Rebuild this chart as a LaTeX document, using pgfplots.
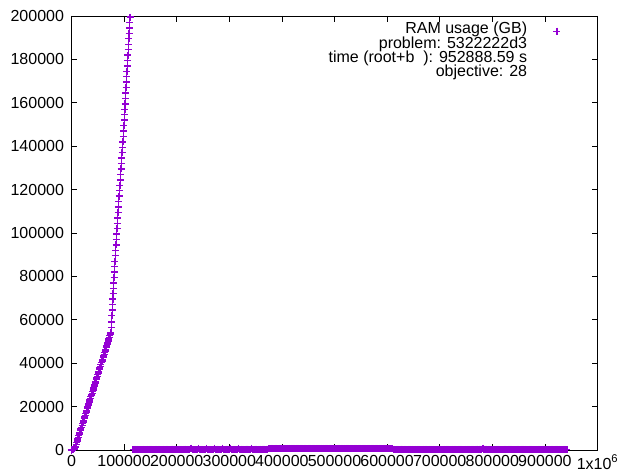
\documentclass[border=0pt]{standalone}
\usepackage{fontspec}
\setmainfont{Liberation Sans}
\usepackage{pgfplots}
\pgfplotsset{compat=1.18}
\definecolor{gpviolet}{RGB}{148,0,211}
\pgfplotsset{gp/.style={only marks, mark=+, mark size=3.5pt,
    color=gpviolet, line width=1.4pt, mark options={gpviolet}}}

\begin{document}
\begin{tikzpicture}
\useasboundingbox (-71.5pt,-21pt) rectangle (549.5pt,450pt);
\begin{axis}[
    at={(0pt,0pt)}, anchor=south west,
    scale only axis,
    width=526pt, height=434pt,
    xmin=0, xmax=1000000,
    ymin=0, ymax=200000,
    xtick={0,100000,200000,300000,400000,500000,600000,700000,800000,900000,1000000},
    xticklabels={0,100000,200000,300000,400000,500000,600000,700000,800000,900000,1x10\textsuperscript{6}},
    ytick={0,20000,40000,60000,80000,100000,120000,140000,160000,180000,200000},
    yticklabels={0,20000,40000,60000,80000,100000,120000,140000,160000,180000,200000},
    scaled ticks=false,
    tick align=inside,
    major tick length=6pt,
    tick style={black, line width=0.8pt},
    axis line style={black, line width=0.9pt},
    ticklabel style={font=\fontsize{16}{16}\selectfont},
    yticklabel style={xshift=-4pt},
    xticklabel style={yshift=-1.4pt},
    legend cell align=right,
    legend plot pos=right,
    legend image code/.code={\path (0pt,0pt) (33pt,0pt);
        \draw[gpviolet, line width=1.4pt] plot[mark=+, mark size=3.5pt] coordinates {(29pt,-1.8pt)};},
    legend style={at={(axis description cs:0.9316,0.9854)}, anchor=north east,
        draw=none, fill=none, inner sep=0pt, outer sep=0pt,
        font=\fontsize{16}{16}\selectfont,
        nodes={inner sep=0pt, text height=11.5pt, text depth=2.7pt},
        row sep=0pt, column sep=0pt},
]
% steep part of the run
\addplot[gp] coordinates {
(0,0)(1000,100)(2000,50)(3000,200)(4000,300)(5000,500)(6000,700)(7000,1100)(8000,1700)(9000,2500)
(10000,3400)(11000,4200)(12000,5000)(13000,5800)(14000,6600)(15000,7400)(16000,8200)(17000,9000)(18000,9700)(19000,10500)
(20000,11300)(21000,12100)(22000,12900)(23000,13700)(24000,14400)(25000,15200)(26000,16000)(27000,16800)(28000,17600)(29000,18300)
(30000,19100)(31000,19900)(32000,20700)(33000,21500)(34000,22200)(35000,23000)(36000,23800)(37000,24600)(38000,25400)(39000,26100)
(40000,26900)(41000,27700)(42000,28500)(43000,29300)(44000,30000)(45000,30800)(46000,31600)(47000,32400)(48000,33200)(49000,33900)
(50000,34700)(51000,35500)(52000,36300)(53000,37100)(54000,37800)(55000,38600)(56000,39400)(57000,40200)(58000,41000)(59000,41700)
(60000,42500)(61000,43300)(62000,44100)(63000,44900)(64000,45600)(65000,46400)(66000,47200)(67000,48000)(68000,48800)(69000,49500)
(70000,50300)(71000,51100)(72000,51900)(73000,52700)(74000,53400)(75000,54200)
(75800,56500)(76300,59000)(76900,62000)(77500,64500)(78100,67000)(78600,69500)(79200,72000)(79800,74500)(80400,77000)(81000,79500)
(81500,82000)(82100,84500)(82700,87000)(83400,89500)(84100,92000)(84700,94500)(85400,97000)(86000,99500)(86600,102000)(87300,104500)
(87900,107000)(88600,109500)(89200,112000)(89900,114500)(90500,117000)(91300,119500)(92000,122000)(92700,124500)(93500,127000)(94200,129500)
(94900,132000)(95600,134500)(96300,137000)(97100,139500)(97800,142000)(98500,144500)(99200,147000)(99800,149500)(100300,152000)(100900,154500)
(101500,157000)(102000,159500)(102600,162000)(103200,164500)(103700,167000)(104300,169500)(104900,172000)(105500,174500)(106100,177000)(106700,179500)
(107200,182000)(107800,184500)(108400,187000)(109000,189500)(109500,192000)(110100,194500)(110700,197000)(111300,199500)
};
\addlegendentry{RAM usage (GB)}
% flat part after the drop
\addplot[gp, forget plot] coordinates {
(117000,180)(119500,260)(122000,300)(124500,240)(127000,220)(129500,190)
(132000,150)(134500,230)(137000,280)(139500,210)(142000,200)(144500,260)(147000,320)(149500,270)
(152000,240)(154500,190)(157000,170)(159500,250)(162000,260)(164500,300)(167000,310)(169500,220)
(172000,190)(174500,240)(177000,230)(179500,280)(182000,280)(184500,200)(187000,210)(189500,260)
(192000,350)(194500,280)(197000,260)(199500,210)(202000,190)(204500,250)(207000,300)(209500,270)
(212000,240)(214500,300)(217000,380)(219500,260)(222000,280)(224500,330)(227000,850)(229500,290)
(232000,300)(234500,250)(237000,220)(239500,270)(242000,900)(244500,310)(247000,330)(249500,240)
(252000,260)(254500,300)(257000,880)(259500,280)(262000,310)(264500,270)(267000,240)(269500,290)
(272000,920)(274500,330)(277000,350)(279500,270)(282000,280)(284500,320)(287000,860)(289500,300)
(292000,300)(294500,360)(297000,400)(299500,330)(302000,900)(304500,290)(307000,320)(309500,280)
(312000,270)(314500,320)(317000,880)(319500,310)(322000,350)(324500,300)(327000,290)(329500,340)
(332000,400)(334500,350)(337000,320)(339500,290)(342000,850)(344500,330)(347000,300)(349500,360)
(352000,380)(354500,340)(357000,330)(359500,370)(362000,420)(364500,390)(367000,350)(369500,400)
(372000,450)(374500,600)(377000,650)(379500,700)(382000,700)(384500,690)(387000,720)(389500,740)
(392000,680)(394500,710)(397000,750)(399500,720)(402000,700)(404500,740)(407000,730)(409500,700)
(412000,690)(414500,730)(417000,760)(419500,720)(422000,710)(424500,750)(427000,740)(429500,700)
(432000,700)(434500,740)(437000,770)(439500,730)(442000,720)(444500,700)(447000,690)(449500,740)
(452000,750)(454500,720)(457000,730)(459500,760)(462000,700)(464500,740)(467000,760)(469500,710)
(472000,720)(474500,700)(477000,690)(479500,740)(482000,740)(484500,720)(487000,710)(489500,750)
(492000,770)(494500,740)(497000,730)(499500,700)(502000,700)(504500,720)(507000,750)(509500,730)
(512000,720)(514500,740)(517000,690)(519500,710)(522000,760)(524500,730)(527000,730)(529500,700)
(532000,700)(534500,750)(537000,740)(539500,720)(542000,720)(544500,760)(547000,770)(549500,730)
(552000,700)(554500,720)(557000,740)(559500,760)(562000,710)(564500,730)(567000,760)(569500,740)
(572000,730)(574500,700)(577000,700)(579500,740)(582000,750)(584500,720)(587000,720)(589500,750)
(592000,760)(594500,790)(597000,800)(599500,760)(602000,740)(604500,700)(607000,650)(609500,500)
(612000,400)(614500,350)(617000,300)(619500,280)(622000,250)(624500,300)(627000,350)(629500,270)
(632000,280)(634500,240)(637000,220)(639500,260)(642000,300)(644500,270)(647000,250)(649500,230)
(652000,200)(654500,260)(657000,310)(659500,280)(662000,260)(664500,220)(667000,190)(669500,240)
(672000,280)(674500,250)(677000,230)(679500,270)(682000,320)(684500,290)(687000,250)(689500,220)
(692000,200)(694500,250)(697000,290)(699500,260)(702000,240)(704500,210)(707000,180)(709500,240)
(712000,300)(714500,270)(717000,250)(719500,230)(722000,210)(724500,250)(727000,280)(729500,260)
(732000,230)(734500,280)(737000,320)(739500,290)(742000,260)(744500,230)(747000,200)(749500,250)
(752000,290)(754500,260)(757000,240)(759500,280)(762000,310)(764500,290)(767000,260)(769500,330)
(772000,400)(774500,380)(777000,350)(779500,400)(782000,880)(784500,450)(787000,420)(789500,350)
(792000,300)(794500,280)(797000,250)(799500,220)(802000,200)(804500,240)(807000,290)(809500,260)
(812000,240)(814500,210)(817000,180)(819500,230)(822000,280)(824500,250)(827000,230)(829500,270)
(832000,300)(834500,270)(837000,250)(839500,220)(842000,190)(844500,230)(847000,270)(849500,240)
(852000,220)(854500,260)(857000,300)(859500,270)(862000,250)(864500,220)(867000,200)(869500,240)
(872000,280)(874500,250)(877000,230)(879500,200)(882000,180)(884500,220)(887000,260)(889500,240)
(892000,220)(894500,260)(897000,300)(899500,270)(902000,240)(904500,210)(907000,190)(909500,230)
(912000,270)(914500,240)(917000,220)(919500,260)(922000,300)(924500,280)(927000,250)(929500,220)
(932000,200)(934500,240)(937000,280)(939500,250)(942000,230)
};
\addlegendimage{empty legend}
\addlegendentry{problem: 5322222d3}
\addlegendimage{empty legend}
\addlegendentry{time (root+b\ \ ): 952888.59 s}
\addlegendimage{empty legend}
\addlegendentry{objective: 28}
\end{axis}
\end{tikzpicture}
\end{document}
